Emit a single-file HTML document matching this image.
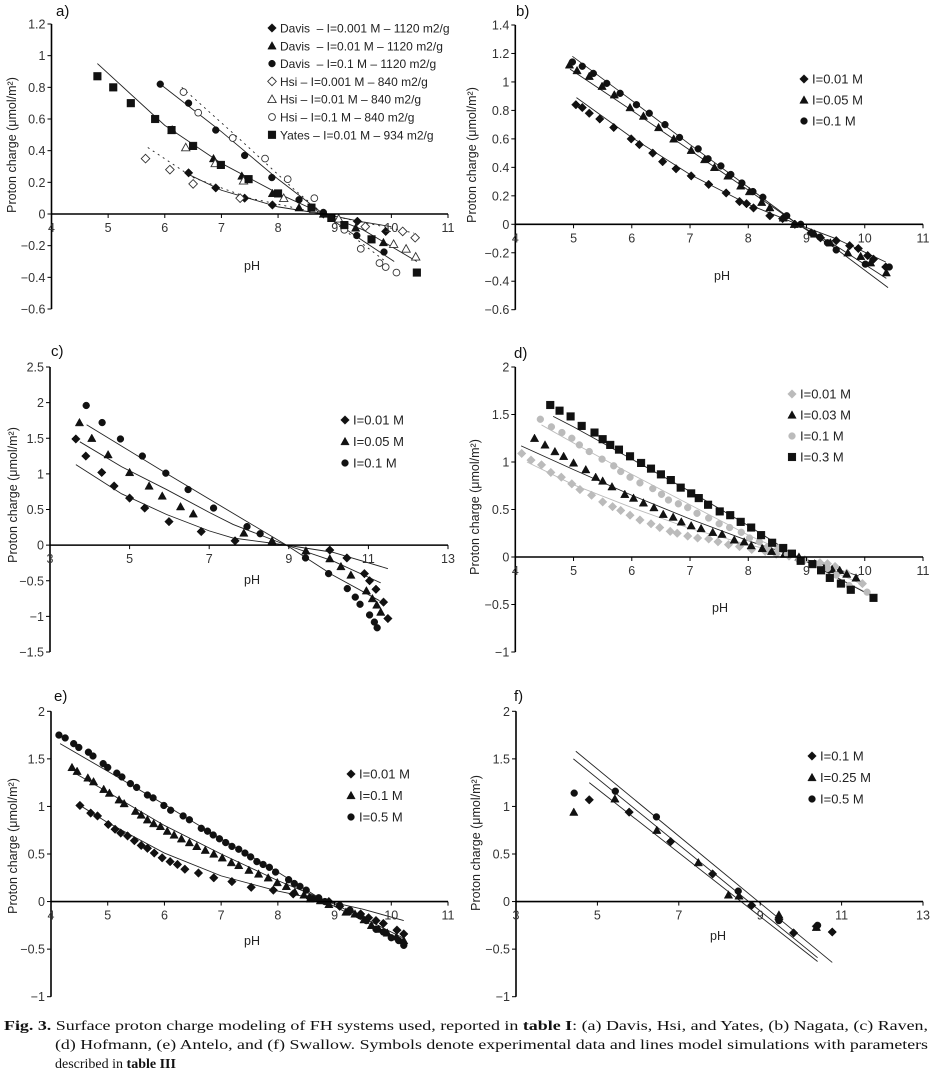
<!DOCTYPE html>
<html><head><meta charset="utf-8"><style>
html,body{margin:0;padding:0;background:#fff;}
svg{display:block;font-family:"Liberation Sans",sans-serif;}
</style></head><body>
<svg id="fig" width="932" height="1075" viewBox="0 0 932 1075" xmlns="http://www.w3.org/2000/svg">
<g id="root"></g>
<g font-family="Liberation Serif, serif" font-size="14" fill="#111">
<text x="4" y="1030" textLength="924" lengthAdjust="spacingAndGlyphs"><tspan font-weight="bold">Fig. 3.</tspan>  Surface proton charge modeling of FH systems used, reported in <tspan font-weight="bold">table I</tspan>: (a) Davis, Hsi, and Yates, (b) Nagata, (c) Raven,</text>
<text x="55" y="1049" textLength="873" lengthAdjust="spacingAndGlyphs">(d) Hofmann, (e) Antelo, and (f) Swallow. Symbols denote experimental data and lines model simulations with parameters</text>
<text x="55" y="1068">described in <tspan font-weight="bold">table III</tspan></text>
</g>
</svg>
<script>
// ---------- Panel a data ----------
const aDavis001 = [[6.42,0.26],[6.9,0.165],[7.41,0.10],[7.9,0.057],[8.8,0],[9.4,-0.046],[9.9,-0.11]];
const aDavis01 = [[6.86,0.35],[7.36,0.24],[7.9,0.13],[8.37,0.04],[8.8,0],[9.37,-0.088],[9.86,-0.18]];
const aDavis1 = [[5.92,0.82],[6.42,0.70],[6.9,0.53],[7.41,0.37],[7.89,0.23],[8.37,0.09],[8.8,0.01],[9.39,-0.136],[9.87,-0.24]];
const aHsi001 = [[5.66,0.35],[6.09,0.28],[6.5,0.19],[7.33,0.10],[9.54,-0.08],[10.2,-0.11],[10.42,-0.15]];
const aHsi01 = [[6.13,0.53],[6.37,0.42],[6.89,0.32],[7.39,0.21],[8.1,0.1],[8.63,0.03],[9.07,-0.03],[10.04,-0.19],[10.26,-0.22],[10.43,-0.27]];
const aHsi1 = [[6.33,0.77],[6.59,0.64],[7.2,0.48],[7.77,0.35],[8.17,0.22],[8.64,0.10],[9.17,-0.1],[9.46,-0.22],[9.79,-0.31],[9.9,-0.335],[10.09,-0.37]];
const aYates = [[4.81,0.87],[5.09,0.80],[5.4,0.70],[5.83,0.60],[6.12,0.53],[6.5,0.43],[6.99,0.31],[7.48,0.22],[8.0,0.13],[8.59,0.04],[8.94,-0.025],[9.17,-0.07],[9.65,-0.16],[10.45,-0.37]];
const aModelYates = [[4.81,0.95],[6,0.56],[7,0.32],[8,0.13],[8.8,0],[9.5,-0.1],[10.45,-0.3]];
const aModelDavis001 = [[6.42,0.25],[7,0.15],[8,0.045],[8.8,0],[9.5,-0.05],[10,-0.08]];
const aModelDavis1 = [[5.92,0.82],[7,0.52],[8,0.22],[8.8,0],[9.5,-0.17],[10.05,-0.3]];
const aModelHsi001 = [[5.7,0.42],[6.5,0.23],[7.5,0.1],[8.8,0],[10.4,-0.12]];
const aModelHsi1 = [[6.3,0.8],[7.3,0.48],[8.3,0.15],[8.8,0],[9.9,-0.3]];
// ---------- Panel b data ----------
const bI001 = [[5.04,0.84],[5.15,0.82],[5.27,0.78],[5.45,0.74],[5.69,0.68],[5.99,0.60],[6.13,0.56],[6.36,0.50],[6.53,0.44],[6.76,0.39],[7.02,0.34],[7.32,0.28],[7.62,0.22],[7.85,0.16],[7.97,0.145],[8.09,0.115],[8.37,0.06],[8.59,0.04],[8.8,0],[9.08,-0.06],[9.24,-0.095],[9.51,-0.115],[9.74,-0.15],[9.89,-0.17],[10.05,-0.22],[10.15,-0.245],[10.36,-0.30]];
const bI005 = [[4.93,1.12],[5.06,1.08],[5.27,1.04],[5.49,0.97],[5.7,0.91],[5.97,0.82],[6.2,0.76],[6.46,0.68],[6.72,0.60],[7.02,0.52],[7.25,0.455],[7.42,0.40],[7.65,0.34],[7.87,0.27],[8.02,0.23],[8.23,0.155],[8.37,0.117],[8.6,0.045],[8.79,0],[9.14,-0.068],[9.41,-0.13],[9.71,-0.2],[9.93,-0.225],[10.1,-0.27],[10.37,-0.34]];
const bI01 = [[4.98,1.14],[5.15,1.11],[5.34,1.06],[5.57,0.99],[5.8,0.92],[6.08,0.84],[6.3,0.78],[6.57,0.70],[6.82,0.61],[7.14,0.53],[7.31,0.46],[7.53,0.41],[7.7,0.35],[7.89,0.29],[8.08,0.23],[8.25,0.19],[8.66,0.06],[8.9,0],[9.23,-0.09],[9.36,-0.13],[9.51,-0.18],[10.01,-0.28],[10.42,-0.30]];
const bModel001 = [[5.05,0.89],[6,0.61],[7,0.35],[8,0.14],[8.85,0],[9.5,-0.1],[10.36,-0.265]];
const bModel005 = [[4.94,1.09],[6,0.8],[7,0.52],[8,0.24],[8.85,0],[9.5,-0.15],[10.37,-0.38]];
const bModel01 = [[4.98,1.18],[6,0.87],[7,0.56],[8,0.26],[8.85,0],[9.5,-0.17],[10.4,-0.445]];
// ---------- Panel c data ----------
const cI001 = [[3.65,1.49],[3.9,1.25],[4.3,1.02],[4.61,0.83],[5.0,0.66],[5.38,0.52],[5.99,0.33],[6.8,0.19],[7.65,0.06],[10.03,-0.07],[10.46,-0.18],[10.9,-0.40],[11.03,-0.50],[11.19,-0.62],[11.38,-0.80],[11.49,-1.03]];
const cI005 = [[3.74,1.72],[4.05,1.50],[4.46,1.27],[5.0,1.02],[5.49,0.83],[5.82,0.69],[6.28,0.54],[6.6,0.44],[7.87,0.17],[8.58,0.06],[9.43,-0.08],[10.03,-0.19],[10.31,-0.30],[10.56,-0.42],[10.95,-0.64],[11.1,-0.75],[11.21,-0.84],[11.31,-0.94]];
const cI01 = [[3.91,1.96],[4.31,1.72],[4.77,1.49],[5.32,1.25],[5.91,1.01],[6.47,0.78],[7.11,0.52],[7.95,0.26],[8.28,0.16],[9.42,-0.18],[10.0,-0.40],[10.47,-0.61],[10.67,-0.73],[10.79,-0.83],[11.03,-0.98],[11.15,-1.08],[11.22,-1.16]];
const cModel001 = [[3.65,1.13],[4.8,0.72],[5.93,0.43],[7,0.2],[7.6,0.1],[8.94,0],[10.1,-0.1],[11.49,-0.33]];
const cModel005 = [[3.75,1.45],[4.8,1.1],[5.93,0.78],[7,0.46],[7.6,0.29],[8.94,0],[10.1,-0.22],[11.31,-0.53]];
const cModel01 = [[3.92,1.69],[6,0.98],[8.94,0],[10.1,-0.42],[11.28,-0.78]];
// ---------- Panel d data ----------
const dI001 = [[4.11,1.09],[4.27,1.02],[4.45,0.97],[4.61,0.89],[4.79,0.84],[4.97,0.77],[5.11,0.71],[5.31,0.65],[5.5,0.58],[5.67,0.53],[5.81,0.49],[5.97,0.44],[6.14,0.39],[6.33,0.35],[6.48,0.31],[6.66,0.27],[6.78,0.25],[6.96,0.22],[7.13,0.2],[7.32,0.19],[7.48,0.16],[7.66,0.13],[7.85,0.11],[8.06,0.08],[8.29,0.06],[8.48,0.03],[8.7,0.01],[8.97,-0.03],[9.23,-0.06],[9.36,-0.07],[9.49,-0.1],[9.69,-0.17],[9.96,-0.28]];
const dI003 = [[4.33,1.25],[4.51,1.18],[4.68,1.11],[4.83,1.06],[5.0,0.99],[5.21,0.92],[5.38,0.84],[5.5,0.80],[5.66,0.74],[5.88,0.66],[6.03,0.62],[6.2,0.57],[6.38,0.52],[6.54,0.45],[6.71,0.42],[6.85,0.37],[7.02,0.33],[7.19,0.3],[7.39,0.26],[7.55,0.24],[7.76,0.18],[7.93,0.16],[8.05,0.12],[8.24,0.09],[8.4,0.06],[8.62,0.03],[8.87,0],[9.14,-0.07],[9.3,-0.12],[9.44,-0.13],[9.57,-0.14],[9.69,-0.18],[9.85,-0.22]];
const dI01 = [[4.43,1.45],[4.62,1.37],[4.8,1.31],[4.97,1.25],[5.1,1.18],[5.27,1.11],[5.49,1.03],[5.69,0.96],[5.81,0.90],[5.97,0.84],[6.14,0.78],[6.36,0.72],[6.51,0.66],[6.63,0.6],[6.8,0.56],[6.96,0.52],[7.12,0.46],[7.32,0.41],[7.5,0.35],[7.68,0.31],[7.88,0.26],[8.02,0.20],[8.19,0.16],[8.34,0.11],[8.51,0.095],[8.67,0.03],[8.87,-0.03],[9.18,-0.08],[9.36,-0.12],[9.51,-0.19],[9.73,-0.3],[10.04,-0.37]];
const dI03 = [[4.6,1.6],[4.76,1.54],[4.95,1.48],[5.14,1.38],[5.36,1.31],[5.5,1.24],[5.63,1.18],[5.78,1.13],[5.97,1.06],[6.16,0.99],[6.33,0.93],[6.5,0.87],[6.67,0.81],[6.84,0.73],[7.02,0.67],[7.15,0.62],[7.31,0.55],[7.51,0.48],[7.69,0.44],[7.87,0.37],[8.05,0.31],[8.22,0.23],[8.41,0.15],[8.6,0.095],[8.75,0.035],[8.9,-0.04],[9.1,-0.075],[9.25,-0.14],[9.4,-0.22],[9.59,-0.28],[9.76,-0.345],[10.15,-0.43]];
const dModel001 = [[4.2,1.0],[5,0.76],[6,0.52],[7,0.3],[8,0.13],[8.9,0],[10,-0.3]];
const dModel003 = [[4.1,1.17],[5,0.92],[6,0.65],[7,0.4],[8,0.17],[8.85,0],[9.9,-0.2]];
const dModel01 = [[4.45,1.39],[5,1.2],[6,0.87],[7,0.55],[8,0.23],[8.85,0],[10.05,-0.38]];
const dModel03 = [[4.65,1.48],[5,1.37],[6,1.03],[7,0.69],[8,0.33],[8.85,0],[10.15,-0.42]];
// ---------- Panel e data ----------
const eI001 = [[4.51,1.01],[4.7,0.93],[4.82,0.9],[5.01,0.81],[5.13,0.76],[5.23,0.72],[5.35,0.69],[5.47,0.64],[5.59,0.59],[5.7,0.56],[5.82,0.51],[5.96,0.46],[6.1,0.42],[6.23,0.39],[6.36,0.34],[6.6,0.3],[6.87,0.25],[7.19,0.21],[7.53,0.15],[7.92,0.12],[8.27,0.08],[8.56,0.04],[8.72,0.02],[8.9,0],[9.09,-0.05],[9.27,-0.1],[9.46,-0.13],[9.6,-0.17],[9.73,-0.2],[9.86,-0.23],[10.1,-0.3],[10.22,-0.34]];
const eI01 = [[4.37,1.41],[4.46,1.37],[4.65,1.30],[4.75,1.26],[4.93,1.18],[5.03,1.14],[5.2,1.07],[5.29,1.03],[5.49,0.95],[5.59,0.91],[5.7,0.86],[5.81,0.82],[5.93,0.79],[6.05,0.74],[6.17,0.70],[6.3,0.66],[6.44,0.62],[6.57,0.58],[6.72,0.54],[6.87,0.50],[7.02,0.46],[7.18,0.41],[7.31,0.38],[7.49,0.33],[7.66,0.29],[7.83,0.25],[7.99,0.2],[8.15,0.16],[8.3,0.10],[8.46,0.07],[8.57,0.03],[8.75,0.01],[8.9,-0.03],[9.2,-0.11],[9.36,-0.13],[9.52,-0.19],[9.65,-0.25],[9.78,-0.29],[9.93,-0.33],[10.09,-0.37],[10.22,-0.41]];
const eI05 = [[4.14,1.75],[4.25,1.72],[4.4,1.66],[4.49,1.62],[4.66,1.57],[4.74,1.53],[4.92,1.45],[5.0,1.41],[5.16,1.35],[5.25,1.31],[5.4,1.24],[5.51,1.2],[5.7,1.12],[5.8,1.09],[5.99,1.01],[6.11,0.96],[6.33,0.9],[6.44,0.86],[6.65,0.77],[6.76,0.74],[6.86,0.70],[6.97,0.66],[7.08,0.62],[7.19,0.58],[7.31,0.55],[7.42,0.51],[7.52,0.47],[7.63,0.42],[7.74,0.39],[7.85,0.36],[7.96,0.31],[8.19,0.23],[8.29,0.19],[8.39,0.16],[8.5,0.12],[8.61,0.03],[8.72,0.04],[8.83,0],[9.09,-0.04],[9.27,-0.09],[9.45,-0.15],[9.56,-0.2],[9.73,-0.29],[9.86,-0.32],[10.0,-0.38],[10.13,-0.41],[10.22,-0.46]];
const eModel001 = [[4.54,1.0],[5,0.83],[6,0.51],[7,0.27],[8,0.11],[8.9,0],[9.5,-0.08],[10.22,-0.2]];
const eModel01 = [[4.45,1.34],[5,1.15],[6,0.80],[7,0.5],[8,0.22],[8.9,0],[9.5,-0.17],[10.2,-0.38]];
const eModel05 = [[4.16,1.66],[5,1.37],[6,1.02],[7,0.66],[8,0.31],[8.83,0],[9.5,-0.2],[10.22,-0.42]];
// ---------- Panel f data ----------
const fI01 = [[4.8,1.07],[5.78,0.94],[6.8,0.63],[7.83,0.29],[8.79,-0.04],[9.46,-0.19],[9.82,-0.33],[10.38,-0.26],[10.77,-0.32]];
const fI025 = [[4.42,0.94],[5.43,1.08],[6.46,0.75],[7.48,0.41],[8.22,0.07],[8.48,0.06],[9.46,-0.14],[10.38,-0.27]];
const fI05 = [[4.43,1.14],[5.44,1.16],[6.45,0.89],[8.46,0.11],[9.46,-0.2],[10.41,-0.25]];
const fModel01 = [[4.8,1.25],[10.41,-0.63]];
const fModel025 = [[4.41,1.5],[10.41,-0.59]];
const fModel05 = [[4.47,1.58],[10.77,-0.64]];

const yTicksA = [1.2,1,0.8,0.6,0.4,0.2,0,-0.2,-0.4,-0.6];
const yTicksB = [1.4,1.2,1,0.8,0.6,0.4,0.2,0,-0.2,-0.4,-0.6];
const yTicksC = [2.5,2,1.5,1,0.5,0,-0.5,-1,-1.5];
const yTicksD = [2,1.5,1,0.5,0,-0.5,-1];
const xTicks4to11 = [4,5,6,7,8,9,10,11];
const xTicks3to13 = [3,5,7,9,11,13];

const NS = "http://www.w3.org/2000/svg";
const root = document.getElementById('root');
function mk(tag, attrs, parent){ const e=document.createElementNS(NS,tag); for(const k in attrs) e.setAttribute(k,attrs[k]); parent.appendChild(e); return e; }
function fmt(v){ return v<0 ? '\u2212'+String(Math.abs(v)) : String(v); }

function marker(g, shape, cx, cy, style){
  const fill = style.open ? '#fff' : style.color;
  const stroke = style.open ? '#333' : style.color;
  let m;
  if(shape==='diamond'){ const r=4.3; m=mk('polygon',{points:`${cx},${cy-r} ${cx+r},${cy} ${cx},${cy+r} ${cx-r},${cy}`,fill,stroke,'stroke-width':style.open?0.9:0.5},g); }
  else if(shape==='triangle'){ const r=4.2; m=mk('polygon',{points:`${cx},${cy-r} ${cx+r},${cy+r*0.8} ${cx-r},${cy+r*0.8}`,fill,stroke,'stroke-width':style.open?0.9:0.5},g); }
  else if(shape==='circle'){ m=mk('circle',{cx,cy,r:3.4,fill,stroke,'stroke-width':style.open?0.9:0.5},g); }
  else { const r=3.8; m=mk('rect',{x:cx-r,y:cy-r,width:2*r,height:2*r,fill,stroke,'stroke-width':0.5},g); }
  
  
  return m;
}

function panel(cfg){
  const g = mk('g',{},root);
  
  
  const X = v => cfg.x0 + (v-cfg.xmin)/(cfg.xmax-cfg.xmin)*(cfg.x1-cfg.x0);
  const Y = v => cfg.ytop + (cfg.ymax-v)/(cfg.ymax-cfg.ymin)*(cfg.ybot-cfg.ytop);
  const lab = mk('text',{x:cfg.labX,y:cfg.labY,'font-size':15,fill:'#111'},g); lab.textContent=cfg.id+')';
  
  
  cfg.models.forEach(md=>{
    const p = mk('polyline',{points:md.pts.map(q=>X(q[0])+','+Y(q[1])).join(' '),fill:'none',stroke:md.color||'#222','stroke-width':md.w||0.9,'stroke-dasharray':md.dash||'none'},g);
    
    
  });
  cfg.series.forEach(s=>{
    const sg = mk('g',{},g);
    
    
    s.pts.forEach(q=>marker(sg,s.shape,X(q[0]),Y(q[1]),s));
  });
  const ax = mk('g',{},g);
  
  
  mk('line',{x1:cfg.x0,y1:cfg.ytop,x2:cfg.x0,y2:cfg.ybot,stroke:'#000','stroke-width':1.6},ax);
  mk('line',{x1:cfg.x0,y1:Y(0),x2:cfg.x1,y2:Y(0),stroke:'#000','stroke-width':1.6},ax);
  cfg.yTicks.forEach(t=>{
    mk('line',{x1:cfg.x0-4,y1:Y(t),x2:cfg.x0,y2:Y(t),stroke:'#000','stroke-width':1},ax);
    const tx = mk('text',{x:cfg.x0-6,y:Y(t)+4.5,'font-size':12.5,fill:'#333','text-anchor':'end'},ax); tx.textContent=fmt(t);
    
    
  });
  cfg.xTicks.forEach(t=>{
    mk('line',{x1:X(t),y1:Y(0),x2:X(t),y2:Y(0)+4,stroke:'#000','stroke-width':1},ax);
    const tx = mk('text',{x:X(t),y:Y(0)+18,'font-size':12.5,fill:'#333','text-anchor':'middle'},ax); tx.textContent=String(t);
    
    
  });
  const xt = mk('text',{x:cfg.pHx,y:cfg.pHy,'font-size':12.5,fill:'#222','text-anchor':'middle'},g); xt.textContent='pH';
  
  
  const yt = mk('text',{x:0,y:0,'font-size':12.5,fill:'#222','text-anchor':'middle',transform:`translate(${cfg.yTitleX},${cfg.yTitleY}) rotate(-90)`},g);
  yt.textContent='Proton charge (\u03bcmol/m\u00b2)';
  
  
  const lg = mk('g',{},g);
  
  
  cfg.series.forEach((s,i)=>{
    const yy = cfg.legY + i*cfg.legDy;
    const e = mk('g',{},lg);
    
    
    marker(e,s.shape,cfg.legX,yy,s);
    const t = mk('text',{x:cfg.legX+8,y:yy+4.5,'font-size':cfg.legFs||13,fill:'#222'},e);
    t.textContent=s.label;
  });
}

const K='#111', G='#bbb';
const SP='\u00a0\u00a0';
panel({id:'a',x0:51.5,x1:448,xmin:4,xmax:11,ytop:24,ybot:309,ymax:1.2,ymin:-0.6,yTicks:yTicksA,xTicks:xTicks4to11,
  labX:56,labY:16,pHx:252,pHy:270,yTitleX:16,yTitleY:145,legX:272,legY:28,legDy:17.8,legFs:12,
  models:[{pts:aModelYates},{pts:aModelDavis001},{pts:aModelDavis1},{pts:aModelHsi001,dash:'2,4'},{pts:aModelHsi1,dash:'2,4'}],
  series:[
   {name:'davis-0001',shape:'diamond',color:K,pts:aDavis001,label:'Davis'+SP+'\u2013 I=0.001 M \u2013 1120 m2/g'},
   {name:'davis-001',shape:'triangle',color:K,pts:aDavis01,label:'Davis'+SP+'\u2013 I=0.01 M \u2013 1120 m2/g'},
   {name:'davis-01',shape:'circle',color:K,pts:aDavis1,label:'Davis'+SP+'\u2013 I=0.1 M \u2013 1120 m2/g'},
   {name:'hsi-0001',shape:'diamond',color:K,open:true,pts:aHsi001,label:'Hsi \u2013 I=0.001 M \u2013 840 m2/g'},
   {name:'hsi-001',shape:'triangle',color:K,open:true,pts:aHsi01,label:'Hsi \u2013 I=0.01 M \u2013 840 m2/g'},
   {name:'hsi-01',shape:'circle',color:K,open:true,pts:aHsi1,label:'Hsi \u2013 I=0.1 M \u2013 840 m2/g'},
   {name:'yates-001',shape:'square',color:K,pts:aYates,label:'Yates \u2013 I=0.01 M \u2013 934 m2/g'}]});
panel({id:'b',x0:515.3,x1:923,xmin:4,xmax:11,ytop:25,ybot:309.7,ymax:1.4,ymin:-0.6,yTicks:yTicksB,xTicks:xTicks4to11,
  labX:516,labY:16,pHx:722,pHy:280,yTitleX:476,yTitleY:155,legX:804,legY:79,legDy:21,
  models:[{pts:bModel001},{pts:bModel005},{pts:bModel01}],
  series:[
   {name:'i-001',shape:'diamond',color:K,pts:bI001,label:'I=0.01 M'},
   {name:'i-005',shape:'triangle',color:K,pts:bI005,label:'I=0.05 M'},
   {name:'i-01',shape:'circle',color:K,pts:bI01,label:'I=0.1 M'}]});
panel({id:'c',x0:50,x1:448,xmin:3,xmax:13,ytop:367,ybot:652,ymax:2.5,ymin:-1.5,yTicks:yTicksC,xTicks:xTicks3to13,
  labX:51,labY:356,pHx:252,pHy:584,yTitleX:17,yTitleY:495,legX:345,legY:420,legDy:21.5,
  models:[{pts:cModel001},{pts:cModel005},{pts:cModel01}],
  series:[
   {name:'i-001',shape:'diamond',color:K,pts:cI001,label:'I=0.01 M'},
   {name:'i-005',shape:'triangle',color:K,pts:cI005,label:'I=0.05 M'},
   {name:'i-01',shape:'circle',color:K,pts:cI01,label:'I=0.1 M'}]});
panel({id:'d',x0:515.3,x1:923,xmin:4,xmax:11,ytop:367,ybot:652,ymax:2,ymin:-1,yTicks:yTicksD,xTicks:xTicks4to11,
  labX:514,labY:358,pHx:720,pHy:612,yTitleX:479,yTitleY:507,legX:792,legY:394,legDy:21,
  models:[{pts:dModel001,color:G},{pts:dModel003},{pts:dModel01,color:G},{pts:dModel03}],
  series:[
   {name:'i-001',shape:'diamond',color:G,pts:dI001,label:'I=0.01 M'},
   {name:'i-003',shape:'triangle',color:K,pts:dI003,label:'I=0.03 M'},
   {name:'i-01',shape:'circle',color:G,pts:dI01,label:'I=0.1 M'},
   {name:'i-03',shape:'square',color:K,pts:dI03,label:'I=0.3 M'}]});
panel({id:'e',x0:51,x1:448,xmin:4,xmax:11,ytop:711.3,ybot:996.7,ymax:2,ymin:-1,yTicks:yTicksD,xTicks:xTicks4to11,
  labX:54,labY:701,pHx:252,pHy:945,yTitleX:17,yTitleY:846,legX:351,legY:774,legDy:21.5,
  models:[{pts:eModel001},{pts:eModel01},{pts:eModel05}],
  series:[
   {name:'i-001',shape:'diamond',color:K,pts:eI001,label:'I=0.01 M'},
   {name:'i-01',shape:'triangle',color:K,pts:eI01,label:'I=0.1 M'},
   {name:'i-05',shape:'circle',color:K,pts:eI05,label:'I=0.5 M'}]});
panel({id:'f',x0:516,x1:923,xmin:3,xmax:13,ytop:711.3,ybot:996.7,ymax:2,ymin:-1,yTicks:yTicksD,xTicks:xTicks3to13,
  labX:514,labY:701,pHx:718,pHy:940,yTitleX:480,yTitleY:843,legX:812,legY:756,legDy:21.5,
  models:[{pts:fModel01},{pts:fModel025},{pts:fModel05}],
  series:[
   {name:'i-01',shape:'diamond',color:K,pts:fI01,label:'I=0.1 M'},
   {name:'i-025',shape:'triangle',color:K,pts:fI025,label:'I=0.25 M'},
   {name:'i-05',shape:'circle',color:K,pts:fI05,label:'I=0.5 M'}]});
</script>
</body></html>
